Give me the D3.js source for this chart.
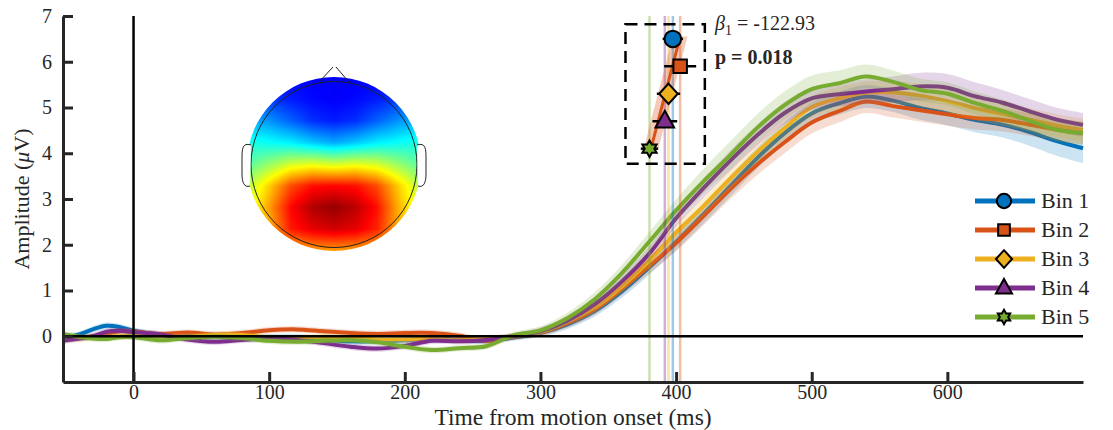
<!DOCTYPE html>
<meta charset="utf-8">
<style>
body { margin: 0; background: #fff; }
svg text { font-family: "Liberation Serif", "Times New Roman", serif; fill: #262626; }
</style>
<body>
<script src="https://cdn.jsdelivr.net/npm/d3@7"></script>
<script>

// ERP time axis (ms) shared by all bins
var times = [-52,-40,-30,-20,-10,0,20,40,60,80,100,120,140,160,180,200,220,240,260,280,
             300,320,340,360,380,400,420,440,460,480,500,520,540,560,580,600,620,640,660,680,700];

var bin1 = [-0.05,0.04,0.15,0.23,0.2,0.12,0.03,0.04,0,-0.04,-0.02,-0.02,-0.07,-0.11,-0.11,-0.09,-0.05,-0.08,-0.1,-0.03,
            0.07,0.26,0.55,0.98,1.5,2.06,2.66,3.28,3.9,4.44,4.87,5.09,5.24,5.15,4.99,4.87,4.73,4.63,4.47,4.27,4.11];
var bin2 = [0,-0.03,0,0.05,0.11,0.1,0.05,0.08,0.04,0.07,0.13,0.15,0.11,0.07,0.05,0.07,0.07,0.01,-0.1,-0.01,
            0.08,0.29,0.59,1.04,1.53,2.04,2.62,3.22,3.76,4.24,4.67,4.92,5.13,5.03,4.94,4.85,4.77,4.73,4.63,4.52,4.44];
var bin3 = [-0.08,-0.05,-0.03,-0.02,0,0.02,0,-0.01,0.03,0.03,-0.03,-0.04,-0.01,-0.03,-0.07,-0.07,-0.05,-0.09,-0.05,0,
            0.09,0.32,0.63,1.09,1.65,2.27,2.84,3.45,4.03,4.55,5.01,5.2,5.32,5.33,5.26,5.14,4.99,4.86,4.74,4.61,4.51];
var bin4 = [-0.1,-0.05,0,0.1,0.12,0.09,0.04,-0.07,-0.12,-0.08,-0.05,-0.08,-0.15,-0.23,-0.27,-0.21,-0.1,-0.11,-0.08,0,
            0.11,0.34,0.7,1.2,1.8,2.58,3.23,3.84,4.4,4.88,5.2,5.29,5.35,5.4,5.46,5.43,5.25,5.11,4.92,4.74,4.62];
var bin5 = [0.05,-0.01,-0.05,-0.06,-0.02,-0.02,-0.09,-0.04,-0.01,-0.04,-0.1,-0.12,-0.1,-0.09,-0.13,-0.23,-0.3,-0.26,-0.22,0.02,
            0.13,0.4,0.81,1.38,2.06,2.75,3.38,3.96,4.56,5.05,5.4,5.53,5.68,5.56,5.38,5.3,5.1,4.93,4.72,4.52,4.44];

// standard error half-widths
var sem1 = [0.07,0.07,0.07,0.07,0.07,0.07,0.07,0.07,0.07,0.07,0.07,0.07,0.07,0.07,0.07,0.07,0.07,0.07,0.07,0.07,
            0.08,0.1,0.12,0.14,0.16,0.18,0.2,0.22,0.23,0.24,0.24,0.25,0.25,0.25,0.26,0.26,0.27,0.28,0.3,0.32,0.33];
var sem2 = [0.07,0.07,0.07,0.07,0.07,0.07,0.07,0.07,0.07,0.07,0.07,0.07,0.07,0.07,0.07,0.07,0.07,0.07,0.07,0.07,
            0.08,0.1,0.12,0.14,0.16,0.18,0.2,0.22,0.23,0.24,0.24,0.25,0.25,0.25,0.25,0.25,0.25,0.25,0.25,0.25,0.25];
var sem3 = [0.07,0.07,0.07,0.07,0.07,0.07,0.07,0.07,0.07,0.07,0.07,0.07,0.07,0.07,0.07,0.07,0.07,0.07,0.07,0.07,
            0.08,0.1,0.12,0.14,0.16,0.18,0.2,0.22,0.23,0.24,0.24,0.25,0.25,0.25,0.25,0.25,0.25,0.25,0.25,0.25,0.25];
var sem4 = [0.07,0.07,0.07,0.07,0.07,0.07,0.07,0.07,0.07,0.07,0.07,0.07,0.07,0.07,0.07,0.07,0.07,0.07,0.07,0.07,
            0.08,0.1,0.12,0.14,0.16,0.18,0.2,0.22,0.23,0.24,0.25,0.26,0.27,0.28,0.3,0.3,0.3,0.28,0.27,0.26,0.26];
var sem5 = [0.07,0.07,0.07,0.07,0.07,0.07,0.07,0.07,0.07,0.07,0.07,0.07,0.07,0.07,0.07,0.07,0.07,0.07,0.07,0.07,
            0.09,0.12,0.15,0.18,0.21,0.24,0.27,0.3,0.3,0.3,0.3,0.28,0.26,0.25,0.25,0.25,0.25,0.25,0.25,0.25,0.25];

var binNames  = ["Bin 1", "Bin 2", "Bin 3", "Bin 4", "Bin 5"];
var binColors = ["#0072BD", "#D95319", "#EDB120", "#7E2F8E", "#77AC30"];
var binShapes = ["circle", "square", "diamond", "triangle", "hexagram"];

// onset latency inset
var onsets   = [397.6, 403.0, 394.4, 391.7, 380.4];
var onsetErr = [7.5, 11.8, 8.6, 9.1, 6.4];
var insetRow = [6.5, 5.9, 5.3, 4.7, 4.1];
var fitLine  = [[381.5, 4.1], [403, 6.55]];
var fitHalf  = 5.4;
var insetBox = [[362.7, 3.77], [421.2, 6.82]];
var betaText = "= -122.93";
var pText    = "p = 0.018";

var xTicks = [0, 100, 200, 300, 400, 500, 600];
var yTicks = [0, 1, 2, 3, 4, 5, 6, 7];

// topography, jet colormap position per grid cell (rows front to back)
var topoGrid = [
  [0.15,0.15,0.13,0.12,0.12,0.12,0.13,0.15,0.15],
  [0.2,0.18,0.15,0.13,0.12,0.13,0.15,0.18,0.2],
  [0.3,0.27,0.22,0.17,0.15,0.17,0.22,0.27,0.3],
  [0.4,0.38,0.36,0.32,0.29,0.32,0.36,0.38,0.4],
  [0.46,0.52,0.58,0.6,0.58,0.6,0.58,0.52,0.46],
  [0.55,0.67,0.8,0.86,0.87,0.86,0.8,0.67,0.55],
  [0.58,0.72,0.87,0.95,0.98,0.94,0.86,0.7,0.58],
  [0.62,0.7,0.85,0.9,0.92,0.9,0.84,0.7,0.62],
  [0.64,0.66,0.7,0.72,0.72,0.72,0.7,0.66,0.64]
];

var bins = [bin1, bin2, bin3, bin4, bin5];
var sems = [sem1, sem2, sem3, sem4, sem5];

var width = 1113, height = 430;

var x = d3.scaleLinear().domain([-52, 700]).range([63, 1083]);
var y = d3.scaleLinear().domain([-1, 7]).range([382, 16]);

var svg = d3.select("body").append("svg")
    .attr("width", width)
    .attr("height", height);

var line = d3.line()
    .x(function(d, i) { return x(times[i]); })
    .y(function(d) { return y(d); })
    .curve(d3.curveCatmullRom.alpha(0.5));

var area = d3.area()
    .x(function(d, i) { return x(times[i]); })
    .y0(function(d) { return y(d[0] - d[1]); })
    .y1(function(d) { return y(d[0] + d[1]); })
    .curve(d3.curveCatmullRom.alpha(0.5));

// curves with shading
bins.forEach(function(b, k) {
  var band = b.map(function(v, i) { return [v, sems[k][i]]; });
  svg.append("path")
      .attr("d", area(band))
      .attr("fill", binColors[k])
      .attr("fill-opacity", 0.2);
  svg.append("path")
      .attr("d", line(b))
      .attr("fill", "none")
      .attr("stroke", binColors[k])
      .attr("stroke-width", 4)
      .attr("stroke-linejoin", "round");
});

// onset latency lines
svg.selectAll(".onset")
    .data(onsets)
  .enter().append("line")
    .attr("x1", function(d) { return x(d); })
    .attr("x2", function(d) { return x(d); })
    .attr("y1", y(-1))
    .attr("y2", y(7))
    .attr("stroke", function(d, i) { return binColors[i]; })
    .attr("stroke-width", 2.5)
    .attr("stroke-opacity", 0.38);

// zero lines
svg.append("line")
    .attr("x1", x(-52)).attr("x2", x(700))
    .attr("y1", y(0)).attr("y2", y(0))
    .attr("stroke", "#000").attr("stroke-width", 2.5);
svg.append("line")
    .attr("x1", x(0)).attr("x2", x(0))
    .attr("y1", y(-1)).attr("y2", y(7))
    .attr("stroke", "#000").attr("stroke-width", 2.5);

// axes
var xAxis = svg.append("g")
    .attr("transform", "translate(0," + y(-1) + ")")
    .call(d3.axisBottom(x).tickValues(xTicks).tickSizeInner(-10).tickSizeOuter(0).tickPadding(3));
var yAxis = svg.append("g")
    .attr("transform", "translate(" + x(-52) + ",0)")
    .call(d3.axisLeft(y).tickValues(yTicks).tickSizeInner(-10).tickSizeOuter(0).tickPadding(11));

[xAxis, yAxis].forEach(function(g) {
  g.attr("font-family", null).attr("font-size", null);
  g.select(".domain").attr("stroke", "#262626").attr("stroke-width", 3);
  g.selectAll(".tick line").attr("stroke", "#262626").attr("stroke-width", 3);
  g.selectAll(".tick text")
      .style("font-family", "'Liberation Serif', 'Times New Roman', serif")
      .style("font-size", "20px")
      .attr("fill", "#262626");
});

svg.append("text")
    .attr("x", (x(-52) + x(700)) / 2)
    .attr("y", 425)
    .attr("text-anchor", "middle")
    .style("font-size", "23.5px")
    .text("Time from motion onset (ms)");

var yl = svg.append("text")
    .attr("transform", "translate(29," + (y(-1) + y(7)) / 2 + ") rotate(-90)")
    .attr("text-anchor", "middle")
    .style("font-size", "22px");
yl.append("tspan").text("Amplitude (");
yl.append("tspan").style("font-style", "italic").text("\u03bc");
yl.append("tspan").text("V)");

// inset: dashed box, fit, error bars, markers
svg.append("rect")
    .attr("x", x(insetBox[0][0]))
    .attr("y", y(insetBox[1][1]))
    .attr("width", x(insetBox[1][0]) - x(insetBox[0][0]))
    .attr("height", y(insetBox[0][1]) - y(insetBox[1][1]))
    .attr("fill", "none")
    .attr("stroke", "#000")
    .attr("stroke-width", 2.5)
    .attr("stroke-dasharray", "12,7");

svg.append("path")
    .attr("d", d3.line()([
      [x(fitLine[0][0] - fitHalf), y(fitLine[0][1])],
      [x(fitLine[1][0] - fitHalf), y(fitLine[1][1])],
      [x(fitLine[1][0] + fitHalf), y(fitLine[1][1])],
      [x(fitLine[0][0] + fitHalf), y(fitLine[0][1])]
    ]) + "Z")
    .attr("fill", binColors[1])
    .attr("fill-opacity", 0.3);
svg.append("line")
    .attr("x1", x(fitLine[0][0])).attr("y1", y(fitLine[0][1]))
    .attr("x2", x(fitLine[1][0])).attr("y2", y(fitLine[1][1]))
    .attr("stroke", binColors[1])
    .attr("stroke-width", 3);

svg.selectAll(".errbar")
    .data(onsets)
  .enter().append("line")
    .attr("x1", function(d, i) { return x(d - onsetErr[i]); })
    .attr("x2", function(d, i) { return x(d + onsetErr[i]); })
    .attr("y1", function(d, i) { return y(insetRow[i]); })
    .attr("y2", function(d, i) { return y(insetRow[i]); })
    .attr("stroke", "#000")
    .attr("stroke-width", 2.5);

function markerPath(shape, s) {
  var p = d3.path();
  if (shape === "circle") {
    p.arc(0, 0, s * 0.55, 0, 2 * Math.PI);
  } else if (shape === "square") {
    p.rect(-s * 0.45, -s * 0.45, s * 0.9, s * 0.9);
  } else if (shape === "diamond") {
    p.moveTo(0, -s * 0.68); p.lineTo(s * 0.62, 0); p.lineTo(0, s * 0.68); p.lineTo(-s * 0.62, 0); p.closePath();
  } else if (shape === "triangle") {
    p.moveTo(0, -s * 0.7); p.lineTo(s * 0.62, s * 0.42); p.lineTo(-s * 0.62, s * 0.42); p.closePath();
  } else {
    for (var i = 0; i < 12; i++) {
      var r = i % 2 === 0 ? s * 0.55 : s * 0.32;
      var a = -Math.PI / 2 + i * Math.PI / 6;
      if (i === 0) p.moveTo(r * Math.cos(a), r * Math.sin(a));
      else p.lineTo(r * Math.cos(a), r * Math.sin(a));
    }
    p.closePath();
  }
  return p.toString();
}

svg.selectAll(".marker")
    .data(onsets)
  .enter().append("path")
    .attr("transform", function(d, i) { return "translate(" + x(d) + "," + y(insetRow[i]) + ")"; })
    .attr("d", function(d, i) { return markerPath(binShapes[i], 15); })
    .attr("fill", function(d, i) { return binColors[i]; })
    .attr("stroke", "#000")
    .attr("stroke-width", 2);

var bt = svg.append("text")
    .attr("x", 715).attr("y", 30)
    .style("font-size", "20px")
    .attr("fill", "#404040");
bt.append("tspan").style("font-style", "italic").text("\u03b2");
bt.append("tspan").attr("dy", 5).style("font-size", "14px").text("1");
bt.append("tspan").attr("dy", -5).text(" " + betaText);

svg.append("text")
    .attr("x", 715).attr("y", 64)
    .style("font-size", "20px")
    .style("font-weight", "bold")
    .text(pText);

// legend
var legend = svg.selectAll(".legend")
    .data(binNames)
  .enter().append("g")
    .attr("transform", function(d, i) { return "translate(975," + (201 + i * 29) + ")"; });
legend.append("line")
    .attr("x1", 0).attr("x2", 60)
    .attr("stroke", function(d, i) { return binColors[i]; })
    .attr("stroke-width", 5);
legend.append("path")
    .attr("transform", "translate(29,0)")
    .attr("d", function(d, i) { return markerPath(binShapes[i], 13); })
    .attr("fill", function(d, i) { return binColors[i]; })
    .attr("stroke", "#000")
    .attr("stroke-width", 2);
legend.append("text")
    .attr("x", 66)
    .attr("dy", "0.33em")
    .style("font-size", "22px")
    .text(function(d) { return d; });

// topographic map inset
var cx = 334, cy = 164, R = 87, N = 2 * R;
var jet = d3.scaleLinear()
    .domain([0, 0.125, 0.375, 0.625, 0.875, 1])
    .range(["#00007f", "#0000ff", "#00ffff", "#ffff00", "#ff0000", "#7f0000"])
    .clamp(true);
var canvas = document.createElement("canvas");
canvas.width = N; canvas.height = N;
var ctx = canvas.getContext("2d");
var img = ctx.createImageData(N, N);
var G = topoGrid.length - 1;
for (var py = 0; py < N; py++) {
  for (var px = 0; px < N; px++) {
    var gx = px / (N - 1) * G, gy = py / (N - 1) * G;
    var i0 = Math.min(Math.floor(gx), G - 1), j0 = Math.min(Math.floor(gy), G - 1);
    var fx = gx - i0, fy = gy - j0;
    var v = topoGrid[j0][i0] * (1 - fx) * (1 - fy) + topoGrid[j0][i0 + 1] * fx * (1 - fy) +
            topoGrid[j0 + 1][i0] * (1 - fx) * fy + topoGrid[j0 + 1][i0 + 1] * fx * fy;
    var c = d3.rgb(jet(v));
    var k = (py * N + px) * 4;
    img.data[k] = c.r; img.data[k + 1] = c.g; img.data[k + 2] = c.b; img.data[k + 3] = 255;
  }
}
ctx.putImageData(img, 0, 0);

svg.append("clipPath").attr("id", "headclip")
  .append("circle").attr("cx", cx).attr("cy", cy).attr("r", R);
svg.append("image")
    .attr("x", cx - R).attr("y", cy - R)
    .attr("width", N).attr("height", N)
    .attr("href", canvas.toDataURL())
    .attr("clip-path", "url(#headclip)");

var head = svg.append("g")
    .attr("fill", "none")
    .attr("stroke", "#222")
    .attr("stroke-width", 1);
head.append("circle").attr("cx", cx).attr("cy", cy + 0.5).attr("r", 83);
head.append("path")
    .attr("d", "M" + (cx - 15) + "," + (cy - 82) + "L" + (cx - 1) + "," + (cy - 97) +
               "M" + (cx + 2) + "," + (cy - 97) + "L" + (cx + 15) + "," + (cy - 82));
[-1, 1].forEach(function(s) {
  var e = d3.path();
  e.moveTo(cx + s * 83, cy - 19);
  e.bezierCurveTo(cx + s * 92, cy - 22, cx + s * 92, cy - 14, cx + s * 92, cy - 6);
  e.lineTo(cx + s * 92, cy + 10);
  e.bezierCurveTo(cx + s * 92, cy + 18, cx + s * 90, cy + 24, cx + s * 84, cy + 22);
  head.append("path").attr("d", e.toString()).attr("fill", "#fff");
});

</script>
</body>
